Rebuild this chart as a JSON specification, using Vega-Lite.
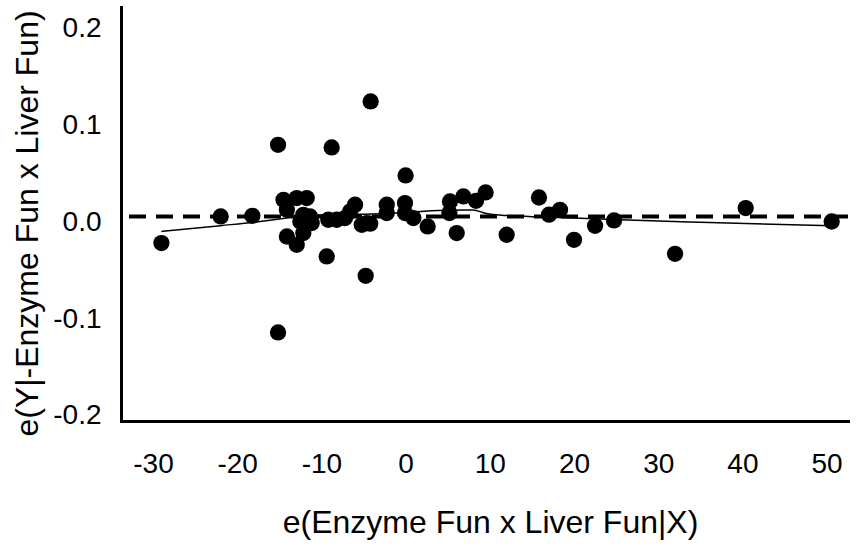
{
  "$schema": "https://vega.github.io/schema/vega-lite/v6.json",
  "autosize": "none",
  "width": 727,
  "height": 414,
  "padding": {"left": 121, "top": 7, "right": 17, "bottom": 130},
  "background": "white",
  "datasets": {
    "pts": [
      {"x": -4.15, "y": 0.1189}, {"x": -15.15, "y": 0.0741}, {"x": -8.78, "y": 0.0713},
      {"x": 0.0, "y": 0.0424}, {"x": -21.96, "y": 0.0}, {"x": -18.2, "y": 0.0007},
      {"x": 9.5, "y": 0.0248}, {"x": 6.86, "y": 0.0207}, {"x": 8.36, "y": 0.0162},
      {"x": 5.27, "y": 0.0155}, {"x": 5.2, "y": 0.0035}, {"x": 6.07, "y": -0.0172},
      {"x": 2.62, "y": -0.0103}, {"x": 0.92, "y": -0.0017}, {"x": -0.07, "y": 0.0138},
      {"x": -0.07, "y": 0.0035}, {"x": -2.24, "y": 0.0121}, {"x": -2.24, "y": 0.0035},
      {"x": -4.62, "y": -0.0068}, {"x": -5.21, "y": -0.0086}, {"x": -6.0, "y": 0.0121},
      {"x": -6.6, "y": 0.0052}, {"x": -7.2, "y": -0.0017}, {"x": -8.18, "y": -0.0034},
      {"x": -9.18, "y": -0.0034}, {"x": -14.5, "y": 0.0172}, {"x": -12.93, "y": 0.019},
      {"x": -11.74, "y": 0.019}, {"x": -14.1, "y": 0.0069}, {"x": -12.15, "y": 0.0017},
      {"x": -11.35, "y": 0.0}, {"x": -12.5, "y": -0.0052}, {"x": -11.15, "y": -0.0068},
      {"x": -12.15, "y": -0.0172}, {"x": -14.1, "y": -0.0207}, {"x": -12.93, "y": -0.0293},
      {"x": -29.0, "y": -0.0275}, {"x": -9.37, "y": -0.0413}, {"x": -4.74, "y": -0.0613},
      {"x": -15.15, "y": -0.1199}, {"x": 15.84, "y": 0.0196}, {"x": 12.0, "y": -0.0189},
      {"x": 17.03, "y": 0.0018}, {"x": 18.34, "y": 0.0069}, {"x": 20.0, "y": -0.0241},
      {"x": 22.5, "y": -0.0096}, {"x": 24.75, "y": -0.0041}, {"x": 32.0, "y": -0.0386},
      {"x": 40.39, "y": 0.0087}, {"x": 50.6, "y": -0.0052}, {"x": -4.2, "y": -0.0075}
    ],
    "fit": [
      {"x": -29, "y": -0.0155}, {"x": -22, "y": -0.0095}, {"x": -18, "y": -0.006},
      {"x": -14.1, "y": -0.0017}, {"x": -12, "y": 0.001}, {"x": -8, "y": 0.002},
      {"x": -4, "y": 0.0025}, {"x": 0, "y": 0.004}, {"x": 3, "y": 0.006},
      {"x": 6, "y": 0.0065}, {"x": 8, "y": 0.0068}, {"x": 9.6, "y": 0.003},
      {"x": 12, "y": 0.001}, {"x": 16, "y": -0.0005}, {"x": 20, "y": -0.0015},
      {"x": 25.5, "y": -0.0034}, {"x": 35, "y": -0.006}, {"x": 50.6, "y": -0.0096}
    ],
    "zero": [{"y": 0}]
  },
  "encoding": {
    "x": {
      "field": "x", "type": "quantitative",
      "scale": {"domain": [-33.8, 52.54], "nice": false, "zero": false},
      "axis": {
        "values": [-30, -20, -10, 0, 10, 20, 30, 40, 50],
        "labelExpr": "replace(format(datum.value, 'd'), '\u2212', '-')",
        "labelPadding": 29,
        "title": "e(Enzyme Fun x Liver Fun|X)",
        "titleBaseline": "middle",
        "titleY": 101,
        "titleX": 369
      }
    },
    "y": {
      "field": "y", "type": "quantitative",
      "scale": {"domain": [-0.2114, 0.2165], "nice": false, "zero": false},
      "axis": {
        "values": [-0.2, -0.1, 0, 0.1, 0.2],
        "labelExpr": "replace(format(datum.value, '.1f'), '\u2212', '-')",
        "labelPadding": 20,
        "labelOffset": 6,
        "title": "e(Y|-Enzyme Fun x Liver Fun)",
        "titleAngle": -90,
        "titleBaseline": "middle",
        "titleAlign": "center",
        "titleX": -94,
        "titleY": 216
      }
    }
  },
  "layer": [
    {
      "data": {"name": "zero"},
      "mark": {"type": "rule", "color": "black", "strokeWidth": 4, "strokeDash": [17, 10]},
      "encoding": {"y": {"field": "y", "type": "quantitative"}, "x": null}
    },
    {
      "data": {"name": "fit"},
      "mark": {"type": "line", "color": "black", "strokeWidth": 1.5, "interpolate": "monotone"},
      "encoding": {}
    },
    {
      "data": {"name": "pts"},
      "mark": {"type": "circle", "color": "black", "opacity": 1, "size": 265},
      "encoding": {}
    }
  ],
  "config": {
    "view": {"stroke": null},
    "axis": {
      "grid": false,
      "ticks": false,
      "domainColor": "black",
      "domainWidth": 3,
      "domainCap": "square",
      "labelFont": "Liberation Sans",
      "labelFontSize": 28,
      "labelColor": "black",
      "titleFont": "Liberation Sans",
      "titleFontSize": 32,
      "titleFontWeight": "normal",
      "titleColor": "black"
    }
  }
}
